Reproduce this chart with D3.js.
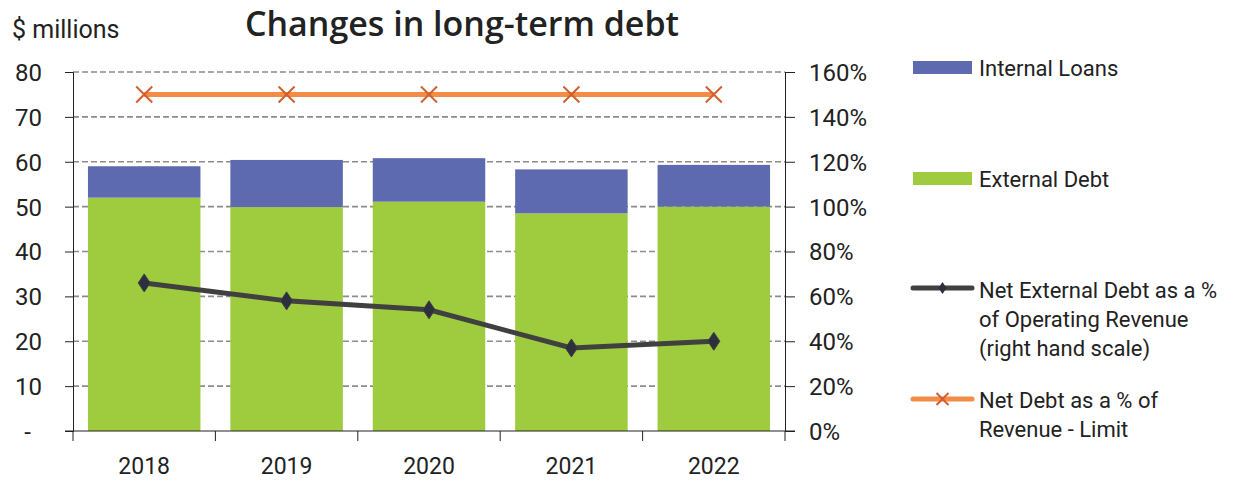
<!DOCTYPE html>
<html>
<head>
<meta charset="utf-8">
<script src="https://cdn.jsdelivr.net/npm/d3@7"></script>
<style>
  body { margin: 0; background: #fff; }
  text { font-family: Roboto, "Noto Sans", sans-serif; fill: #222; }
</style>
</head>
<body>
<script>
// data
const years = ["2018", "2019", "2020", "2021", "2022"];
const external_debt = [52.0, 49.9, 51.1, 48.5, 50.0];
const internal_loans = [7.0, 10.5, 9.7, 9.8, 9.3];
const net_external_pct = [66, 58, 54, 37, 40];
const limit_pct = [150, 150, 150, 150, 150];
const left_ticks = [0, 10, 20, 30, 40, 50, 60, 70, 80];
const right_ticks = [0, 20, 40, 60, 80, 100, 120, 140, 160];

const WIDTH = 1247, HEIGHT = 481;
const COL_INTERNAL = "#5e6ab0";
const COL_EXTERNAL = "#9fcb3e";
const COL_NET = "#404040";
const COL_DIAMOND = "#2c2f3d";
const COL_LIMIT = "#f28c46";
const COL_CROSS = "#d0602f";

const plot_left = 73, plot_right = 785, plot_top = 72, plot_bottom = 431;

const svg = d3.select("body").append("svg")
    .attr("width", WIDTH)
    .attr("height", HEIGHT);

const x = d3.scaleBand().domain(years).range([plot_left, plot_right]).paddingInner(0.21).paddingOuter(0.105);
const y = d3.scaleLinear().domain([0, 80]).range([plot_bottom, plot_top]);
const y2 = d3.scaleLinear().domain([0, 160]).range([plot_bottom, plot_top]);
const cx = d => x(d) + x.bandwidth() / 2;

// gridlines
svg.append("g").selectAll("line")
    .data(left_ticks.filter(t => t > 0))
    .enter().append("line")
    .attr("x1", plot_left).attr("x2", plot_right)
    .attr("y1", d => y(d)).attr("y2", d => y(d))
    .attr("stroke", "#8c8c8c")
    .attr("stroke-width", 1.6)
    .attr("stroke-dasharray", "6,3");

// stacked bars
const stack_rows = years.map((yr, i) => ({year: yr, external: external_debt[i], internal: internal_loans[i]}));
const series = d3.stack().keys(["external", "internal"])(stack_rows);
const colors = {external: COL_EXTERNAL, internal: COL_INTERNAL};

svg.append("g").selectAll("g")
    .data(series)
    .enter().append("g")
    .attr("fill", s => colors[s.key])
    .selectAll("rect")
    .data(s => s)
    .enter().append("rect")
    .attr("x", d => x(d.data.year))
    .attr("width", x.bandwidth())
    .attr("y", d => y(d[1]))
    .attr("height", d => y(d[0]) - y(d[1]));

// left axis
const axis_left = svg.append("g")
    .attr("transform", `translate(${plot_left},0)`)
    .call(d3.axisLeft(y).tickValues(left_ticks).tickSize(8).tickFormat(d => d === 0 ? "-" : d));
axis_left.select(".domain").attr("stroke", "#222");
axis_left.selectAll(".tick line").attr("stroke", "#222");
axis_left.selectAll(".tick text")
    .attr("x", d => d === 0 ? -42 : -31)
    .attr("dy", "0.35em")
    .style("font-size", "24px");

// right axis
const axis_right = svg.append("g")
    .attr("transform", `translate(${plot_right},0)`)
    .call(d3.axisRight(y2).tickValues(right_ticks).tickSize(10).tickFormat(d => d + "%"));
axis_right.select(".domain").attr("stroke", "#222");
axis_right.selectAll(".tick line").attr("stroke", "#222");
axis_right.selectAll(".tick text")
    .attr("x", 24)
    .attr("dy", "0.35em")
    .style("font-size", "24px");

// bottom axis: ticks between categories
const axis_bottom = svg.append("g")
    .attr("transform", `translate(0,${plot_bottom})`);
axis_bottom.append("line")
    .attr("x1", plot_left - 8).attr("x2", plot_right + 10)
    .attr("stroke", "#222");
const boundaries = years.map(d => x(d) - x.step() * x.paddingInner() / 2);
boundaries.push(plot_right);
boundaries[0] = plot_left;
axis_bottom.selectAll("line.tk")
    .data(boundaries)
    .enter().append("line")
    .attr("class", "tk")
    .attr("x1", d => d).attr("x2", d => d)
    .attr("y1", 0).attr("y2", 10)
    .attr("stroke", "#222");
axis_bottom.selectAll("text")
    .data(years)
    .enter().append("text")
    .attr("x", cx)
    .attr("y", 43)
    .attr("text-anchor", "middle")
    .style("font-size", "23px")
    .text(d => d);

// net external debt line
const pct_line = d3.line().x((d, i) => cx(years[i])).y(d => y2(d));
svg.append("path")
    .datum(net_external_pct)
    .attr("fill", "none")
    .attr("stroke", COL_NET)
    .attr("stroke-width", 5)
    .attr("d", pct_line);
svg.append("g").selectAll("path")
    .data(net_external_pct)
    .enter().append("path")
    .attr("transform", (d, i) => `translate(${cx(years[i])},${y2(d)})`)
    .attr("d", "M0,-9L6,0L0,9L-6,0Z")
    .attr("fill", COL_DIAMOND)
    .attr("stroke", COL_NET)
    .attr("stroke-width", 1);

// limit line
svg.append("path")
    .datum(limit_pct)
    .attr("fill", "none")
    .attr("stroke", COL_LIMIT)
    .attr("stroke-width", 5)
    .attr("d", pct_line);
svg.append("g").selectAll("path")
    .data(limit_pct)
    .enter().append("path")
    .attr("transform", (d, i) => `translate(${cx(years[i])},${y2(d)})`)
    .attr("d", "M-8,-8L8,8M-8,8L8,-8")
    .attr("stroke", COL_CROSS)
    .attr("stroke-width", 2);

// titles
svg.append("text")
    .attr("x", 462).attr("y", 36)
    .attr("text-anchor", "middle")
    .style("font-family", "'Open Sans', sans-serif")
    .style("font-size", "34px")
    .style("font-weight", "600")
    .text("Changes in long-term debt");
svg.append("text")
    .attr("x", 12).attr("y", 38)
    .style("font-size", "25px")
    .text("$ millions");

// legend
const legend = svg.append("g");
const lx = 913, lw = 59, tx = 979;
legend.append("rect").attr("x", lx).attr("y", 61).attr("width", lw).attr("height", 13).attr("fill", COL_INTERNAL);
legend.append("rect").attr("x", lx).attr("y", 172).attr("width", lw).attr("height", 13).attr("fill", COL_EXTERNAL);
legend.append("line").attr("x1", lx).attr("x2", lx + lw).attr("y1", 288).attr("y2", 288)
    .attr("stroke", COL_NET).attr("stroke-width", 5).attr("stroke-linecap", "round");
legend.append("path").attr("transform", `translate(${lx + lw / 2},288)`).attr("d", "M0,-6L4,0L0,6L-4,0Z").attr("fill", COL_DIAMOND);
legend.append("line").attr("x1", lx).attr("x2", lx + lw).attr("y1", 399).attr("y2", 399)
    .attr("stroke", COL_LIMIT).attr("stroke-width", 5).attr("stroke-linecap", "round");
legend.append("path").attr("transform", `translate(${lx + lw / 2},399)`).attr("d", "M-6,-6L6,6M-6,6L6,-6")
    .attr("stroke", COL_CROSS).attr("stroke-width", 2);

const legend_lines = [
    ["Internal Loans", 76],
    ["External Debt", 187],
    ["Net External Debt as a %", 298],
    ["of Operating Revenue", 327],
    ["(right hand scale)", 356],
    ["Net Debt as a % of", 408],
    ["Revenue - Limit", 437]
];
legend.selectAll("text")
    .data(legend_lines)
    .enter().append("text")
    .attr("x", tx)
    .attr("y", d => d[1])
    .style("font-size", "22px")
    .text(d => d[0]);
</script>
</body>
</html>
